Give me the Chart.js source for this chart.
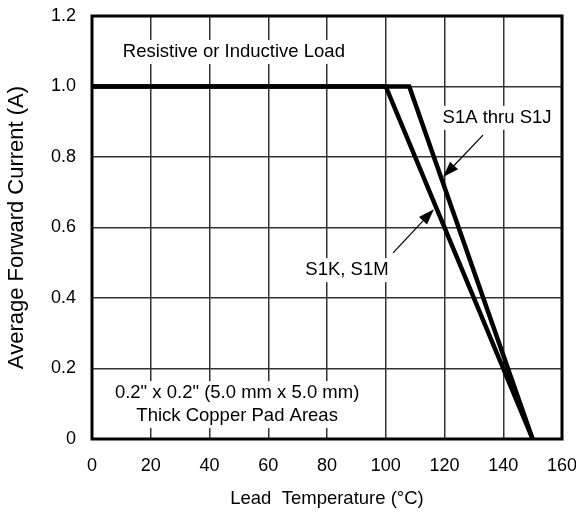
<!DOCTYPE html>
<html>
<head>
<meta charset="utf-8">
<script src="https://cdn.jsdelivr.net/npm/chart.js@4/dist/chart.umd.min.js"></script>
<style>
  html, body { margin: 0; padding: 0; background: #fff; }
  #wrap { width: 576px; height: 514px; }
</style>
</head>
<body>
<div id="wrap"><canvas id="chart"></canvas></div>
<script>
// derating curves
const tempS1A = [0, 108, 150];
const currS1A = [1.0, 1.0, 0];
const tempS1K = [0, 100, 150];
const currS1K = [1.0, 1.0, 0];

const xTicks = [0, 20, 40, 60, 80, 100, 120, 140, 160];
const yTicks = [0, 0.2, 0.4, 0.6, 0.8, 1.0, 1.2];

// notes: [text, x, y] in data units
const notes = [
    ['Resistive or Inductive Load', 48.3, 1.098],
    ['S1A thru S1J', 137.9, 0.911],
    ['S1K, S1M', 86.8, 0.479],
    ['0.2" x 0.2" (5.0 mm x 5.0 mm)', 49.4, 0.130],
    ['Thick Copper Pad Areas', 49.4, 0.065]
];
// arrows: [fromX, fromY, toX, toY]
const arrows = [
    [133.1, 0.862, 119.5, 0.743],
    [102.5, 0.528, 116.4, 0.652]
];

function pts(xs, ys) {
    return xs.map(function (x, i) { return {x: x, y: ys[i]}; });
}

const FONT = '"Liberation Sans", Arial, sans-serif';

const extras = {
    id: 'extras',
    afterDraw(chart) {
        const ctx = chart.ctx;
        const a = chart.chartArea;
        const xs = chart.scales.x, ys = chart.scales.y;
        ctx.save();
        // frame
        ctx.strokeStyle = '#000';
        ctx.lineWidth = 3;
        ctx.strokeRect(a.left, a.top, a.right - a.left, a.bottom - a.top);

        // text with white boxes
        ctx.font = '18.5px ' + FONT;
        ctx.textAlign = 'center';
        ctx.textBaseline = 'middle';
        notes.forEach(function (n) {
            const px = xs.getPixelForValue(n[1]);
            const py = ys.getPixelForValue(n[2]);
            const w = ctx.measureText(n[0]).width;
            ctx.fillStyle = '#fff';
            ctx.fillRect(px - w / 2 - 3, py - 12, w + 6, 24);
        });
        notes.forEach(function (n) {
            const px = xs.getPixelForValue(n[1]);
            const py = ys.getPixelForValue(n[2]);
            ctx.fillStyle = '#000';
            ctx.fillText(n[0], px, py);
        });

        // arrows
        arrows.forEach(function (ar) {
            const x0 = xs.getPixelForValue(ar[0]), y0 = ys.getPixelForValue(ar[1]);
            const x1 = xs.getPixelForValue(ar[2]), y1 = ys.getPixelForValue(ar[3]);
            const ang = Math.atan2(y1 - y0, x1 - x0);
            const len = 16, half = 5.5;
            const bx = x1 - len * Math.cos(ang), by = y1 - len * Math.sin(ang);
            ctx.strokeStyle = '#000';
            ctx.lineWidth = 1.2;
            ctx.beginPath();
            ctx.moveTo(x0, y0);
            ctx.lineTo(bx, by);
            ctx.stroke();
            ctx.fillStyle = '#000';
            ctx.beginPath();
            ctx.moveTo(x1, y1);
            ctx.lineTo(bx + half * Math.sin(ang), by - half * Math.cos(ang));
            ctx.lineTo(bx - half * Math.sin(ang), by + half * Math.cos(ang));
            ctx.closePath();
            ctx.fill();
        });
        ctx.restore();
    }
};

new Chart(document.getElementById('chart'), {
    type: 'scatter',
    data: {
        datasets: [{
            data: pts(tempS1A, currS1A),
            showLine: true,
            borderColor: '#000',
            borderWidth: 4.5,
            borderJoinStyle: 'miter',
            pointRadius: 0
        }, {
            data: pts(tempS1K, currS1K),
            showLine: true,
            borderColor: '#000',
            borderWidth: 4.5,
            borderJoinStyle: 'miter',
            pointRadius: 0
        }]
    },
    options: {
        responsive: true,
        maintainAspectRatio: false,
        animation: false,
        events: [],
        layout: {padding: {top: 16, right: 14, left: 0, bottom: 0}},
        plugins: {legend: {display: false}, tooltip: {enabled: false}},
        scales: {
            x: {
                type: 'linear',
                min: 0, max: 160,
                afterBuildTicks(s) { s.ticks = xTicks.map(function (v) { return {value: v}; }); },
                grid: {color: '#333', lineWidth: 1.5, drawTicks: false},
                border: {display: false},
                ticks: {color: '#000', padding: 16, maxRotation: 0, font: {family: FONT, size: 18}},
                title: {display: true, text: 'Lead  Temperature (°C)', color: '#000', padding: {top: 8}, font: {family: FONT, size: 18.5}},
                afterFit(s) { s.height = 75; s.paddingLeft = 0; s.paddingRight = 0; }
            },
            y: {
                type: 'linear',
                min: 0, max: 1.2,
                afterBuildTicks(s) { s.ticks = yTicks.map(function (v) { return {value: v}; }); },
                grid: {color: '#333', lineWidth: 1.5, drawTicks: false},
                border: {display: false},
                ticks: {
                    color: '#000', padding: 16, font: {family: FONT, size: 18},
                    callback(v) { return v === 0 ? '0' : v.toFixed(1); }
                },
                title: {display: true, text: 'Average Forward Current (A)', color: '#000', padding: {top: 4, bottom: 4}, font: {family: FONT, size: 22}},
                afterFit(s) { s.width = 92; s.paddingTop = 0; s.paddingBottom = 0; }
            }
        }
    },
    plugins: [extras]
});
</script>
</body>
</html>
